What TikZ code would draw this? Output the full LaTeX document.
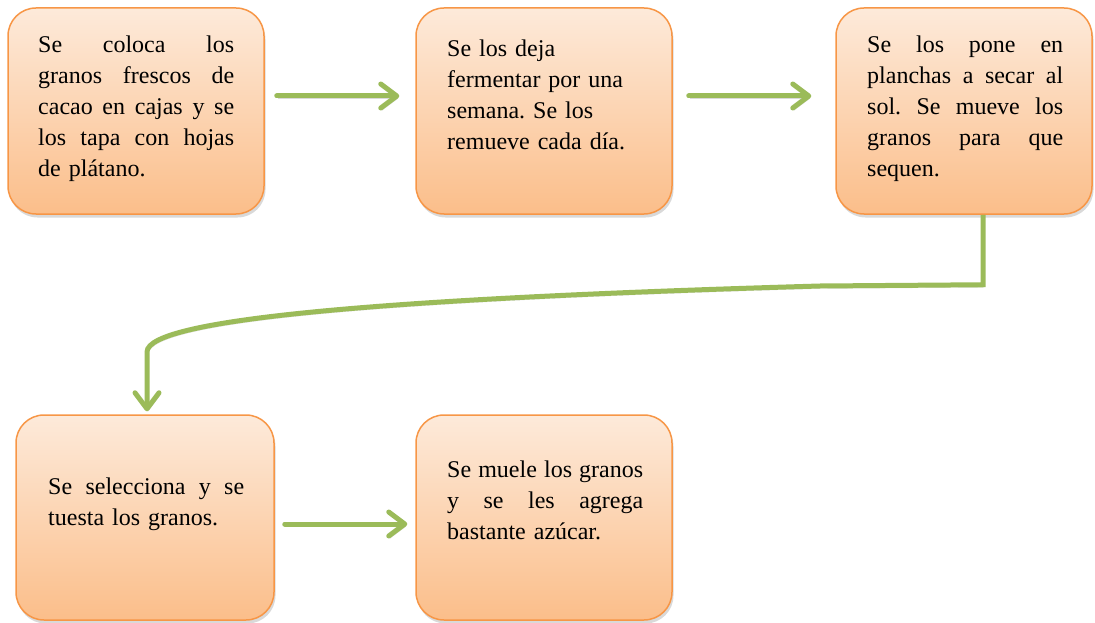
\documentclass[tikz,border=0pt]{standalone}
\usepackage{fontspec}
\setmainfont{Liberation Serif}
\usetikzlibrary{arrows.meta,shadows,calc}
\definecolor{boxborder}{RGB}{247,150,70}
\definecolor{boxtop}{RGB}{253,234,218}
\definecolor{boxbot}{RGB}{251,190,138}
\definecolor{arrowgreen}{RGB}{155,187,89}
\newcommand\jline[1]{\leavevmode\hbox to 196pt{#1}}
\frenchspacing
\tikzset{
  stepbox/.style={draw=boxborder, line width=1.5pt, rounded corners=28pt,
    top color=boxtop, bottom color=boxbot, minimum width=256pt, minimum height=206pt,
    inner sep=0pt, drop shadow={opacity=0.3, shadow xshift=1.5pt, shadow yshift=-3.5pt}},
  steptext/.style={anchor=north west, inner sep=0pt, text width=198pt, align=left,
    font=\fontsize{24}{31}\selectfont},
  flow/.style={draw=arrowgreen, line width=5pt, line cap=round,
    -{Straight Barb[length=16pt,width=24pt,round]},
    preaction={draw=black, opacity=0.15, transform canvas={shift={(1pt,-2.5pt)}}}}
}
\begin{document}
\begin{tikzpicture}[x=1pt,y=-1pt]
\useasboundingbox (0,0) rectangle (1095,623);
\node[stepbox] (b1) at (136,111) {};
\node[stepbox] (b2) at (544,111) {};
\node[stepbox] (b3) at (964,111) {};
\node[stepbox, minimum width=258pt, minimum height=205pt] (b4) at (145,517.5) {};
\node[stepbox, minimum height=205pt] (b5) at (544,517.5) {};

\node[steptext] (t1) at (38,35.5) {\jline{Se\hfill coloca\hfill los}\\\jline{granos\hfill frescos\hfill de}\\\jline{cacao\hfill en\hfill cajas\hfill y\hfill se}\\\jline{los\hfill tapa\hfill con\hfill hojas}\\de plátano.};
\node[steptext] (t2) at (447,40) {Se los deja\\fermentar por una\\semana. Se los\\remueve cada día.};
\node[steptext] (t3) at (867,35.5) {\jline{Se\hfill los\hfill pone\hfill en}\\\jline{planchas\hfill a\hfill secar\hfill al}\\\jline{sol.\hfill Se\hfill mueve\hfill los}\\\jline{granos\hfill para\hfill que}\\sequen.};
\node[steptext] (t4) at (48,478) {\jline{Se\hfill selecciona\hfill y\hfill se}\\tuesta los granos.};
\node[steptext] (t5) at (447,461) {\jline{Se\hfill muele\hfill los\hfill granos}\\\jline{y\hfill se\hfill les\hfill agrega}\\bastante azúcar.};

\draw[flow] ($(b1.east)+(12,-15)$) -- ($(b2.west)+(-16,-15)$);
\draw[flow] ($(b2.east)+(16,-15)$) -- ($(b3.west)+(-24,-15)$);
\draw[flow] ($(b4.east)+(10,6.5)$) -- ($(b5.west)+(-8,6.5)$);
\coordinate (c1) at ($(b3.south)+(19,0)$);
\coordinate (c2) at ($(b4.north)+(2,-3)$);
\draw[flow, line cap=butt] (c1) -- ++(0,70) -- (820,286) .. controls (400,298) and (147,318) .. (147,352) -- (c2);
\end{tikzpicture}
\end{document}
